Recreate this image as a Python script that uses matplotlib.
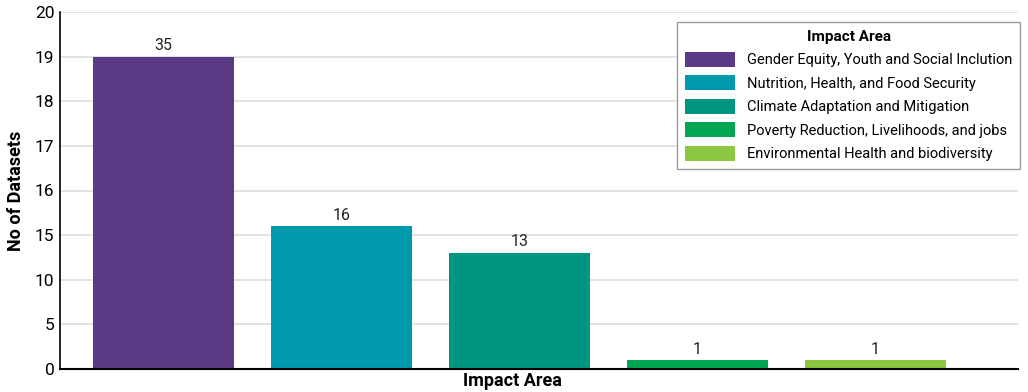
import matplotlib.pyplot as plt
from matplotlib.patches import Patch

plt.rcParams['font.family'] = ['Roboto', 'DejaVu Sans']

areas = ['Gender Equity, Youth and Social Inclution',
         'Nutrition, Health, and Food Security',
         'Climate Adaptation and Mitigation',
         'Poverty Reduction, Livelihoods, and jobs',
         'Environmental Health and biodiversity']
counts = [35, 16, 13, 1, 1]
colors = ['#5a3a84', '#0099ad', '#009580', '#00a651', '#8dc63f']
# the source chart labels its ticks this way (linear 0-40 underneath)
ytick_pos = [0, 5, 10, 15, 20, 25, 30, 35, 40]
ytick_labels = ['0', '5', '10', '15', '16', '17', '18', '19', '20']

fig = plt.figure(figsize=(10.28, 3.92), dpi=100)
ax = fig.add_axes([60/1028, 1 - 369/392, (1018-60)/1028, (369-12)/392])

x = list(range(len(areas)))
bars = ax.bar(x, counts, width=0.79, color=colors, zorder=2)
for xi, c in zip(x, counts):
  ax.text(xi, c + 0.4, str(c), ha='center', va='bottom', fontsize=11.5, color='#222222')

ax.set_xlim(-0.58, 4.8)
ax.set_ylim(0, 40)
ax.set_yticks(ytick_pos)
ax.set_yticklabels(ytick_labels, fontsize=12.5)
ax.set_xticks([])
ax.yaxis.grid(True, color='#dddddd', linewidth=1.2, zorder=0)
ax.tick_params(axis='y', length=0, pad=4)
for s in ['top', 'right']:
  ax.spines[s].set_visible(False)
ax.spines['left'].set_linewidth(1.2)
ax.spines['bottom'].set_linewidth(1.5)

ax.set_ylabel('No of Datasets', fontsize=13, fontweight='bold')
ax.yaxis.set_label_coords(-0.037, 0.5)
ax.set_xlabel('Impact Area', fontsize=13, fontweight='bold')
ax.xaxis.set_label_coords(0.472, -0.008)

handles = [Patch(facecolor=c, label=a) for a, c in zip(areas, colors)]
leg = ax.legend(handles=handles, title='Impact Area', loc='upper right',
                bbox_to_anchor=(1.002, 0.972), borderaxespad=0,
                fontsize=10.5, title_fontproperties={'weight': 'bold', 'size': 11},
                fancybox=False, edgecolor='#999999', framealpha=1,
                handlelength=3.4, handleheight=1.2, handletextpad=0.8,
                labelspacing=0.55, borderpad=0.55)
leg.get_frame().set_linewidth(1.0)

fig.savefig('out.png', dpi=100)
